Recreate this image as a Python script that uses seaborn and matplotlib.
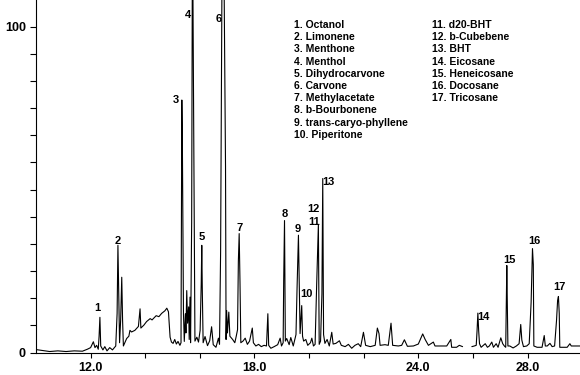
import numpy as np
import pandas as pd
import matplotlib
matplotlib.use("Agg")
import matplotlib.pyplot as plt
import seaborn as sns

# retention time (min) / relative abundance
rt = [10.00, 10.25, 10.50, 10.80, 11.10, 11.40, 11.70, 11.88, 12.00, 12.10,
      12.16, 12.22, 12.28, 12.31, 12.34, 12.37, 12.45, 12.52, 12.60, 12.70,
      12.80, 12.92, 12.97, 13.00, 13.03, 13.06, 13.10, 13.14, 13.17, 13.20,
      13.32, 13.40, 13.44, 13.50, 13.62, 13.75, 13.81, 13.84, 13.95, 14.05,
      14.18, 14.25, 14.32, 14.40, 14.50, 14.60, 14.72, 14.79, 14.85, 14.91,
      14.96, 15.02, 15.08, 15.14, 15.20, 15.27, 15.31, 15.34, 15.36, 15.38,
      15.40, 15.43, 15.47, 15.49, 15.52, 15.55, 15.59, 15.61, 15.64, 15.66,
      15.70, 15.73, 15.76, 15.78, 15.82, 15.89, 15.95, 16.01, 16.05, 16.07,
      16.09, 16.12, 16.19, 16.28, 16.36, 16.43, 16.49, 16.59, 16.68, 16.72,
      16.76, 16.79, 16.84, 16.94, 16.96, 16.98, 17.01, 17.06, 17.10, 17.20,
      17.28, 17.33, 17.38, 17.41, 17.44, 17.47, 17.50, 17.58, 17.66, 17.74,
      17.82, 17.92, 17.96, 18.05, 18.15, 18.25, 18.35, 18.44, 18.49, 18.52,
      18.60, 18.72, 18.85, 18.94, 18.99, 19.05, 19.07, 19.10, 19.13, 19.18,
      19.27, 19.33, 19.42, 19.52, 19.56, 19.61, 19.64, 19.67, 19.73, 19.76,
      19.80, 19.88, 19.95, 20.05, 20.10, 20.16, 20.22, 20.28, 20.34, 20.37,
      20.42, 20.47, 20.50, 20.53, 20.58, 20.66, 20.74, 20.83, 20.88, 20.98,
      21.11, 21.18, 21.32, 21.44, 21.56, 21.68, 21.80, 21.89, 21.99, 22.07,
      22.24, 22.42, 22.50, 22.56, 22.60, 22.78, 22.90, 23.00, 23.06, 23.27,
      23.39, 23.49, 23.60, 23.82, 24.00, 24.16, 24.25, 24.37, 24.55, 24.61,
      24.85, 25.04, 25.13, 25.19, 25.22, 25.40, 25.50, 25.62, np.nan, 25.96,
      26.05, 26.12, 26.15, 26.18, 26.21, 26.24, 26.30, 26.45, 26.53, 26.60,
      26.69, 26.75, 26.85, 26.92, 27.02, 27.09, 27.15, 27.20, 27.24, 27.26,
      27.28, 27.35, 27.47, 27.59, 27.69, 27.75, 27.79, 27.85, 27.97, 28.06,
      28.13, 28.18, 28.21, 28.23, 28.35, 28.53, 28.61, 28.65, 28.72, 28.82,
      28.90, 28.99, 29.06, 29.10, 29.13, 29.16, 29.18, 29.30, 29.45, 29.55,
      29.60, 29.70, 29.92]
signal = [0.9, 0.6, 0.3, 0.5, 0.3, 0.5, 0.4, 1.0, 1.5, 3.3,
          1.5, 2.2, 1.0, 5.0, 10.8, 2.0, 0.8, 1.8, 0.5, 1.5,
          0.8, 2.0, 12.0, 32.9, 18.0, 3.0, 10.0, 23.1, 10.0, 2.0,
          4.3, 5.0, 6.8, 6.3, 6.8, 8.0, 13.4, 7.5, 8.4, 9.5,
          10.4, 10.0, 10.6, 11.3, 11.0, 12.0, 12.8, 13.6, 12.5, 4.7,
          3.2, 2.8, 4.0, 2.6, 3.4, 2.2, 3.0, 77.5, 64.0, 39.6,
          12.0, 3.4, 11.9, 6.0, 19.0, 9.0, 14.0, 4.0, 17.0, 3.0,
          40.0, 135.0, 90.0, 57.0, 3.5, 4.7, 3.2, 6.8, 21.0, 32.9,
          19.0, 3.0, 4.9, 2.1, 3.6, 7.9, 2.4, 1.6, 4.4, 2.5,
          31.0, 82.0, 165.0, 57.0, 4.0, 12.9, 6.0, 12.4, 5.0, 4.0,
          3.0, 4.9, 7.0, 28.0, 36.5, 21.5, 3.0, 3.5, 4.4, 2.5,
          3.5, 7.5, 3.0, 2.0, 2.5, 1.8, 2.2, 2.0, 11.9, 2.2,
          1.3, 1.8, 2.4, 4.4, 2.0, 3.0, 22.0, 40.5, 3.5, 4.3,
          2.4, 4.6, 2.0, 5.5, 20.0, 36.0, 20.5, 5.8, 14.4, 5.0,
          3.5, 4.0, 2.2, 3.0, 4.4, 2.0, 2.5, 21.6, 39.2, 2.5,
          3.5, 18.0, 53.4, 5.5, 2.8, 4.0, 2.0, 6.2, 2.6, 2.8,
          3.6, 2.2, 1.8, 2.5, 1.3, 2.2, 2.7, 1.8, 6.2, 2.2,
          1.8, 2.2, 7.5, 5.8, 2.2, 2.4, 2.2, 9.0, 2.2, 2.0,
          2.2, 3.9, 1.9, 2.0, 2.6, 5.7, 4.0, 2.2, 3.2, 2.0,
          2.0, 2.0, 3.2, 4.0, 1.6, 1.6, 2.2, 1.8, np.nan, 1.8,
          2.0, 2.2, 6.6, 12.1, 6.6, 2.7, 1.6, 2.7, 1.6, 2.0,
          3.2, 1.6, 2.7, 1.6, 4.5, 2.7, 2.0, 1.6, 26.7, 14.0,
          2.0, 2.0, 1.4, 2.0, 2.7, 8.6, 3.8, 1.8, 2.0, 2.7,
          15.4, 31.9, 27.0, 2.0, 1.6, 1.6, 5.2, 2.0, 2.0, 2.8,
          1.8, 2.0, 9.8, 16.0, 17.2, 12.0, 1.6, 1.6, 1.6, 2.7,
          2.0, 2.0, 2.0]

# numbered peaks
peak_no = list(range(1, 18))
peak_rt = [12.34, 13.00, 15.34, 15.73, 16.07, 16.84, 17.44, 19.10, 19.61,
           19.73, 20.34, 20.34, 20.50, 26.18, 27.24, 28.18, 29.13]
peak_ht = [10.8, 32.9, 77.5, 135.0, 32.9, 165.0, 36.5, 40.5, 36.0,
           14.4, 39.2, 39.2, 53.4, 12.1, 26.7, 31.9, 17.2]
compounds = ["Octanol", "Limonene", "Menthone", "Menthol", "Dihydrocarvone",
             "Carvone", "Methylacetate", "b-Bourbonene", "trans-caryo-phyllene",
             "Piperitone", "d20-BHT", "b-Cubebene", "BHT", "Eicosane",
             "Heneicosane", "Docosane", "Tricosane"]

x_ticks = [12, 14, 16, 18, 20, 22, 24, 26, 28]
x_ticklabels = ["12.0", "", "", "18.0", "", "", "24.0", "", "28.0"]

# label offsets from the peak top, in pixels (right, up)
label_offsets = [(-3, 9), (0, 4), (-6, 0), (-4, -15), (0, 8), (-4.5, -19),
                 (0, 6), (0, 7), (-1, 6), (4.5, 12), (-4.5, 3), (-5, 16),
                 (5.5, -3.5), (5.5, -3.5), (2.5, 5.5), (1.5, 8), (1.5, 9)]

sns.set_theme(style="ticks")
plt.rcParams["font.family"] = ["Liberation Sans", "DejaVu Sans"]
plt.rcParams["font.weight"] = "bold"
plt.rcParams["text.color"] = "black"

W, H = 580, 375
fig = plt.figure(figsize=(W / 100, H / 100), dpi=100)
ax = fig.add_axes([36 / W, 22.5 / H, 1 - 36 / W, 1 - 22.5 / H])

trace = pd.DataFrame({"rt": rt, "signal": signal})
trace["seg"] = trace["rt"].isna().cumsum()
trace = trace.dropna()
sns.lineplot(data=trace, x="rt", y="signal", units="seg", estimator=None,
             color="black", lw=0.8, ax=ax)

ytop = 108.2
ax.set_xlim(10, 29.92)
ax.set_ylim(0, ytop)
ax.set_xticks(x_ticks)
ax.set_xticklabels(x_ticklabels)
ax.set_yticks(np.linspace(0, 100, 13))
ax.set_yticklabels(["0"] + [""] * 11 + ["100"])
ax.set_xlabel("")
ax.set_ylabel("")
ax.tick_params(axis="both", colors="black", labelcolor="black",
               labelsize=9, width=0.8, pad=3)
ax.tick_params(axis="y", length=4.3)
ax.tick_params(axis="x", length=3.6)
for lab in ax.get_xticklabels() + ax.get_yticklabels():
    lab.set_fontweight("bold")
sns.despine(ax=ax)
for s in ["left", "bottom"]:
    ax.spines[s].set_color("black")
    ax.spines[s].set_linewidth(0.8)

for n, t, h, (dx, dy) in zip(peak_no, peak_rt, peak_ht, label_offsets):
    ax.annotate(str(n), xy=(t, min(h, ytop)), xytext=(dx * 0.72, dy * 0.72),
                textcoords="offset points", ha="center", va="center",
                fontsize=8, fontweight="bold", color="black",
                annotation_clip=False)

# compound key, two columns
for i, (n, name) in enumerate(zip(peak_no, compounds)):
    col, row = (0, i) if i < 10 else (1, i - 10)
    x = (294 if col == 0 else 431.5) / W
    y = 1 - (25 + row * 12.2) / H
    fig.text(x, y, f"{n}. {name}", ha="left", va="center",
             fontsize=7.5, fontweight="bold", color="black")

fig.savefig("out.png", dpi=100)
